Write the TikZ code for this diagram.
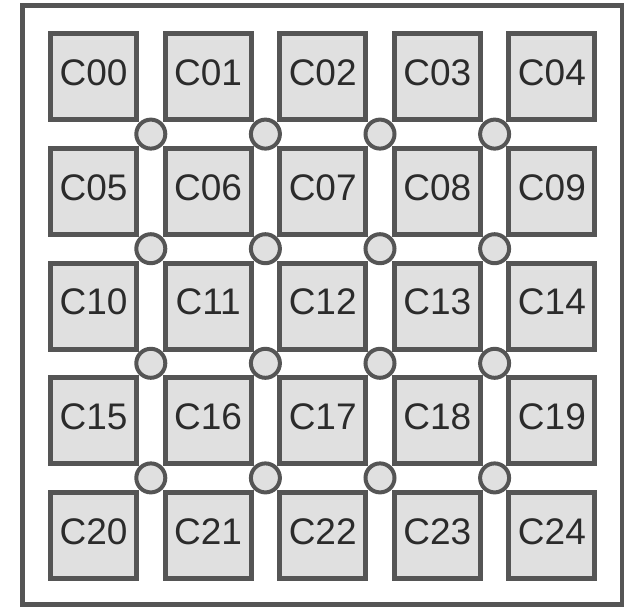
\documentclass[tikz,border=0pt]{standalone}
\usepackage{fontspec}
\setmainfont{Liberation Sans}
\definecolor{edgegray}{HTML}{555555}
\definecolor{cellgray}{HTML}{E0E0E0}
\definecolor{labelgray}{HTML}{2B2B2B}
\tikzset{
  cell/.style={draw=edgegray,fill=cellgray,line width=5pt,minimum size=86pt,inner sep=0pt,
    text=labelgray,text depth=8pt,font=\fontsize{37}{37}\selectfont},
  joint/.style={circle,draw=edgegray,fill=cellgray,line width=4pt,minimum size=29pt,inner sep=0pt}
}
\begin{document}
\begin{tikzpicture}[x=1pt,y=-1pt]
\useasboundingbox (0,0) rectangle (624,606);
\draw[draw=edgegray,line width=5pt] (22.5,5) rectangle (622,604);

\node[cell] (c00) at (93.5,76.8) {C00};  \node[cell] (c01) at (208.1,76.8) {C01};
\node[cell] (c02) at (322.7,76.8) {C02}; \node[cell] (c03) at (437.3,76.8) {C03};
\node[cell] (c04) at (551.9,76.8) {C04};

\node[cell] (c05) at (93.5,191.4) {C05};  \node[cell] (c06) at (208.1,191.4) {C06};
\node[cell] (c07) at (322.7,191.4) {C07}; \node[cell] (c08) at (437.3,191.4) {C08};
\node[cell] (c09) at (551.9,191.4) {C09};

\node[cell] (c10) at (93.5,306) {C10};  \node[cell] (c11) at (208.1,306) {C11};
\node[cell] (c12) at (322.7,306) {C12}; \node[cell] (c13) at (437.3,306) {C13};
\node[cell] (c14) at (551.9,306) {C14};

\node[cell] (c15) at (93.5,420.6) {C15};  \node[cell] (c16) at (208.1,420.6) {C16};
\node[cell] (c17) at (322.7,420.6) {C17}; \node[cell] (c18) at (437.3,420.6) {C18};
\node[cell] (c19) at (551.9,420.6) {C19};

\node[cell] (c20) at (93.5,535.2) {C20};  \node[cell] (c21) at (208.1,535.2) {C21};
\node[cell] (c22) at (322.7,535.2) {C22}; \node[cell] (c23) at (437.3,535.2) {C23};
\node[cell] (c24) at (551.9,535.2) {C24};

% joints between the cells
\node[joint] (j00) at (150.8,134.1) {}; \node[joint] (j01) at (265.4,134.1) {};
\node[joint] (j02) at (380,134.1) {};   \node[joint] (j03) at (494.6,134.1) {};
\node[joint] (j10) at (150.8,248.7) {}; \node[joint] (j11) at (265.4,248.7) {};
\node[joint] (j12) at (380,248.7) {};   \node[joint] (j13) at (494.6,248.7) {};
\node[joint] (j20) at (150.8,363.3) {}; \node[joint] (j21) at (265.4,363.3) {};
\node[joint] (j22) at (380,363.3) {};   \node[joint] (j23) at (494.6,363.3) {};
\node[joint] (j30) at (150.8,477.9) {}; \node[joint] (j31) at (265.4,477.9) {};
\node[joint] (j32) at (380,477.9) {};   \node[joint] (j33) at (494.6,477.9) {};
\end{tikzpicture}
\end{document}
